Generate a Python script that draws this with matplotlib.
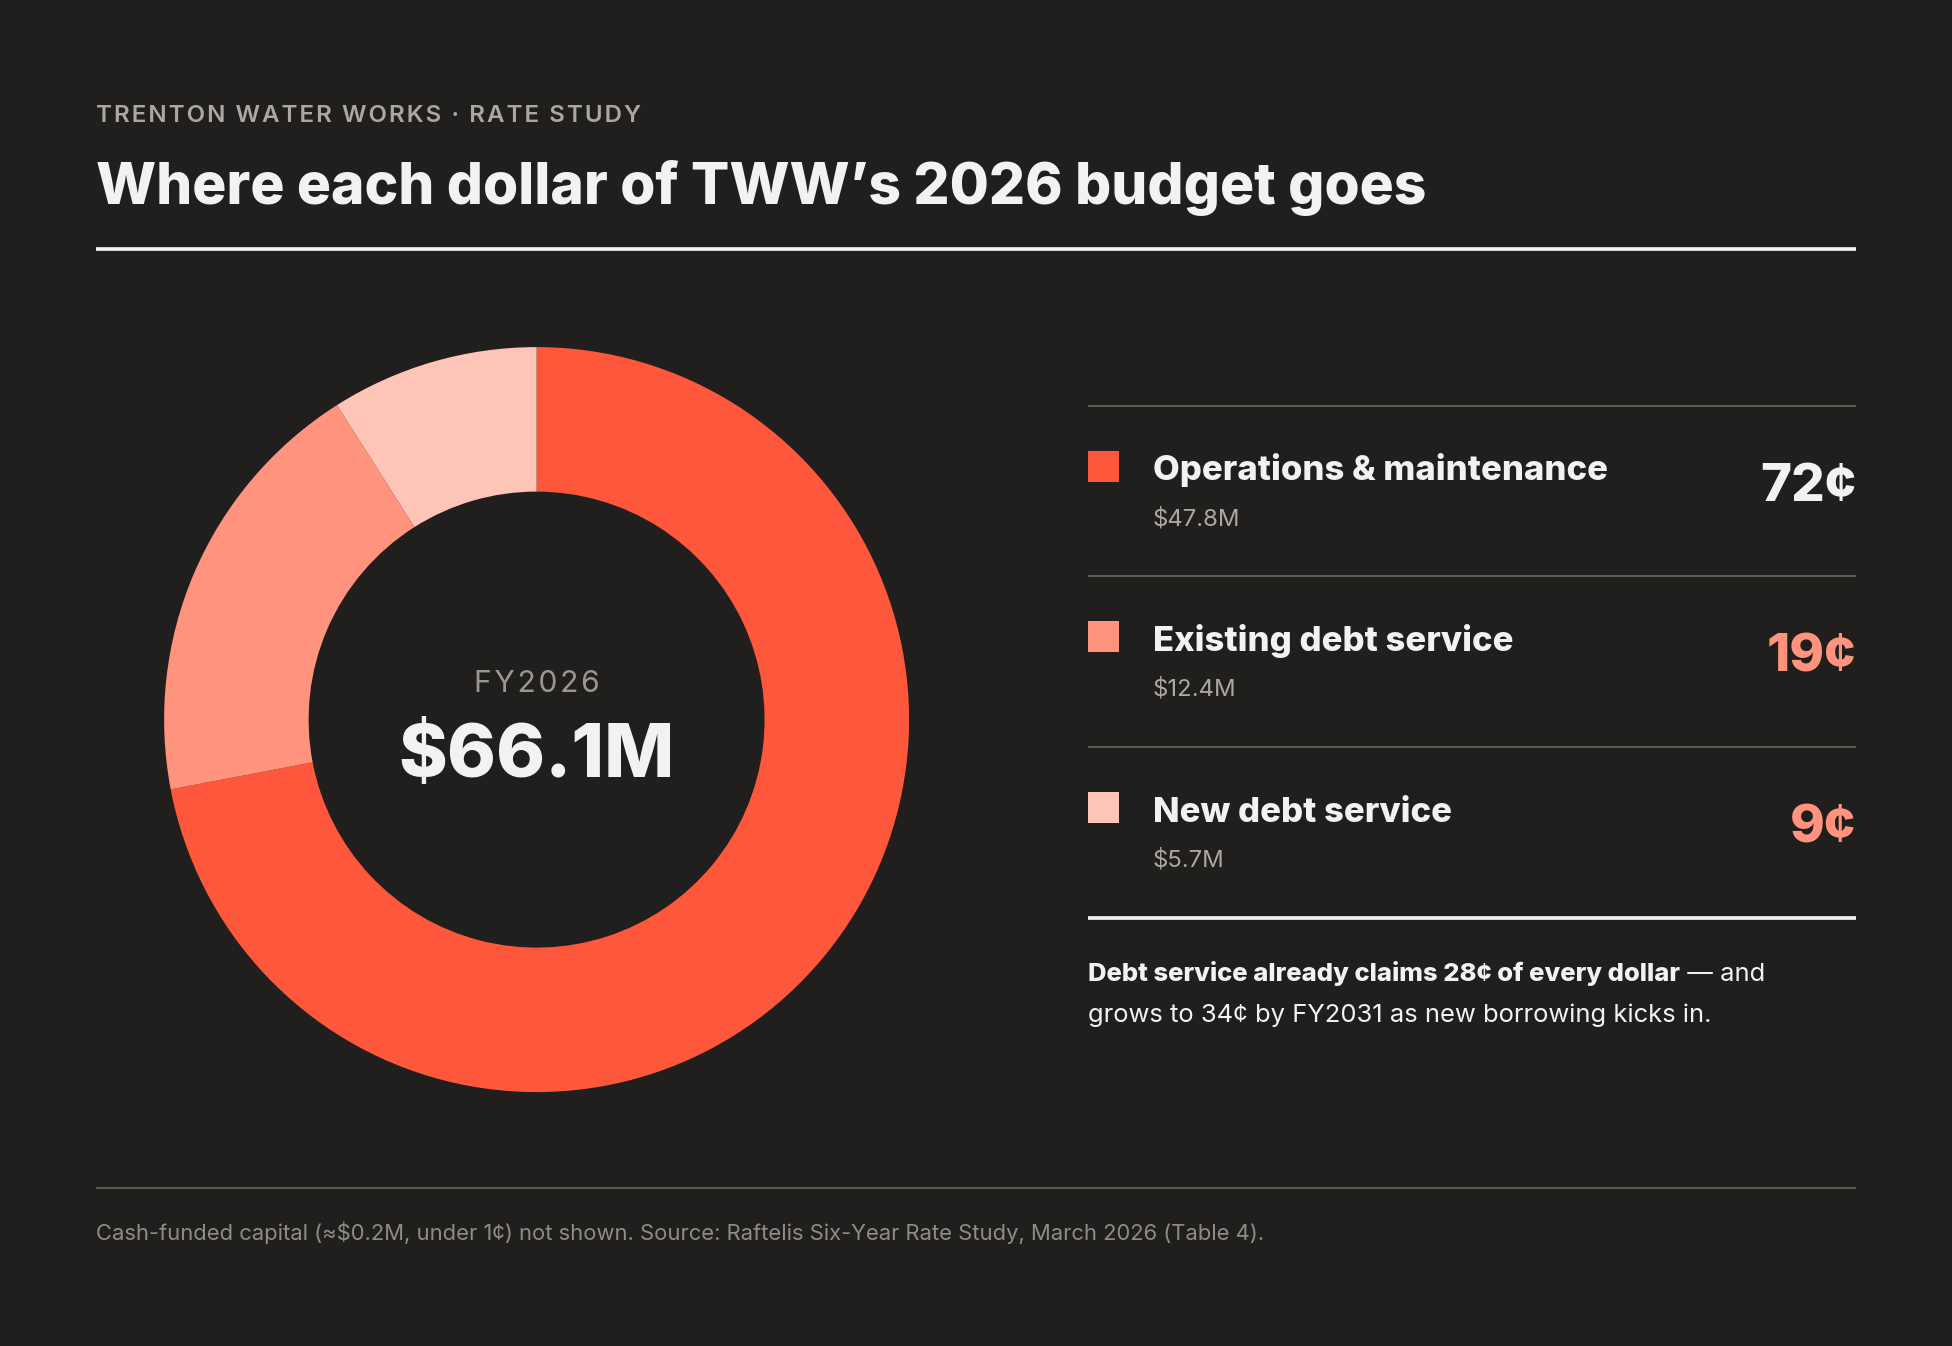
import matplotlib
matplotlib.use("Agg")
import matplotlib.pyplot as plt
from matplotlib.patches import Rectangle

# ---------------- data ----------------
eyebrow = "TRENTON WATER WORKS · RATE STUDY"
title = "Where each dollar of TWW\u2019s 2026 budget goes"
categories = ["Operations & maintenance", "Existing debt service", "New debt service"]
amounts_m = [47.8, 12.4, 5.7]
cents = [72, 19, 9]
total_m = 66.1
fiscal_year = "FY2026"
note_bold = "Debt service already claims 28\u00a2 of every dollar"
note_rest1 = " \u2014 and"
note_line2 = "grows to 34\u00a2 by FY2031 as new borrowing kicks in."
footer = ("Cash-funded capital (\u2248$0.2M, under 1\u00a2) not shown. "
          "Source: Raftelis Six-Year Rate Study, March 2026 (Table 4).")

# ---------------- style ----------------
W, H = 1952, 1346
BG = "#201F1D"
WHITE = "#F2F2F2"
GRAY_TXT = "#ABA8A3"
GRAY_LINE = "#5C5A57"
slice_colors = ["#FF573B", "#FF937E", "#FFC4B8"]
cent_colors = [WHITE, "#FF937E", "#FF937E"]
FONT = ["Inter", "DejaVu Sans"]
HEAVY = 800

fig = plt.figure(figsize=(W / 100, H / 100), dpi=100, facecolor=BG)
ax = fig.add_axes([0, 0, 1, 1])
ax.set_xlim(0, W)
ax.set_ylim(H, 0)
ax.axis("off")
renderer = fig.canvas.get_renderer()


def fit(x, y, s, target_w, size, ha="left", va="baseline", weight="normal",
        color=WHITE):
    t = ax.text(x, y, s, fontsize=size, ha=ha, va=va, fontweight=weight,
                color=color, family=FONT)
    w = t.get_window_extent(renderer).width
    t.set_fontsize(size * target_w / w)
    return t


def spaced(s):
    return "\u200a".join(list(s))


L, R = 96, 1856
PX = 0.72  # px -> pt

# header
fit(L, 122, spaced(eyebrow), 545, 16, weight="semibold", color=GRAY_TXT)
fit(L, 204, title, 1330, 44, weight=HEAVY, color=WHITE)
ax.plot([L, R], [249, 249], color=WHITE, lw=3.7 * PX, solid_capstyle="butt")

# donut (wedges sized by cents of each budget dollar)
cx, cy, Rout, Rin = 536.6, 719.6, 372.5, 228.0
pax = fig.add_axes([(cx - Rout) / W, 1 - (cy + Rout) / H, 2 * Rout / W, 2 * Rout / H])
pax.pie(cents, colors=slice_colors, startangle=90, counterclock=False,
        radius=1.0, wedgeprops=dict(width=1 - Rin / Rout, linewidth=0))
pax.set_xlim(-1, 1)
pax.set_ylim(-1, 1)
pax.set_aspect("equal")
pax.axis("off")

fit(cx, 692, spaced(fiscal_year), 126, 20, ha="center", color="#9A9792")
fit(cx, 777, f"${total_m}M", 276, 50, ha="center", weight=HEAVY, color=WHITE)

# legend panel
PL = 1088
row_top = [405.9, 576.4, 747.0]
for y in row_top:
    ax.plot([PL, R], [y, y], color=GRAY_LINE, lw=2.0 * PX, solid_capstyle="butt")

lab_size = None
amt_size = None
val_size = None
for i, (cat, amt, c) in enumerate(zip(categories, amounts_m, cents)):
    top = row_top[i]
    ax.add_patch(Rectangle((PL, top + 45), 31, 31, color=slice_colors[i], lw=0))
    if lab_size is None:
        t = fit(1153, top + 74.5, cat, 453, 24, weight=HEAVY, color=WHITE)
        lab_size = t.get_fontsize()
    else:
        ax.text(1153, top + 74.5, cat, fontsize=lab_size, fontweight=HEAVY,
                color=WHITE, family=FONT, va="baseline")
    s_amt = f"${amt}M"
    if amt_size is None:
        t = fit(1153, top + 119.5, s_amt, 88, 18, color=GRAY_TXT)
        amt_size = t.get_fontsize()
    else:
        ax.text(1153, top + 119.5, s_amt, fontsize=amt_size, color=GRAY_TXT,
                family=FONT, va="baseline")
    s_c = f"{c}\u00a2"
    if val_size is None:
        t = fit(R, top + 95.5, s_c, 96, 36, ha="right", weight=HEAVY,
                color=cent_colors[i])
        val_size = t.get_fontsize()
    else:
        ax.text(R, top + 95.5, s_c, fontsize=val_size, fontweight=HEAVY,
                color=cent_colors[i], family=FONT, ha="right", va="baseline")

ax.plot([PL, R], [917.6, 917.6], color=WHITE, lw=3.7 * PX, solid_capstyle="butt")

# note
t2 = fit(PL, 1022, note_line2, 624, 19, color=WHITE)
ns = t2.get_fontsize()
tb = ax.text(PL, 981, note_bold, fontsize=ns, fontweight=HEAVY, color=WHITE,
             family=FONT, va="baseline")
bw = tb.get_window_extent(renderer)
ax.text(PL + bw.width, 981, note_rest1, fontsize=ns, color=WHITE, family=FONT,
        va="baseline")

# footer
ax.plot([L, R], [1187.7, 1187.7], color=GRAY_LINE, lw=2.0 * PX, solid_capstyle="butt")
fit(L, 1240, footer, 1170, 15, color="#8F8C88")

fig.savefig("out.png", dpi=100, facecolor=BG)
